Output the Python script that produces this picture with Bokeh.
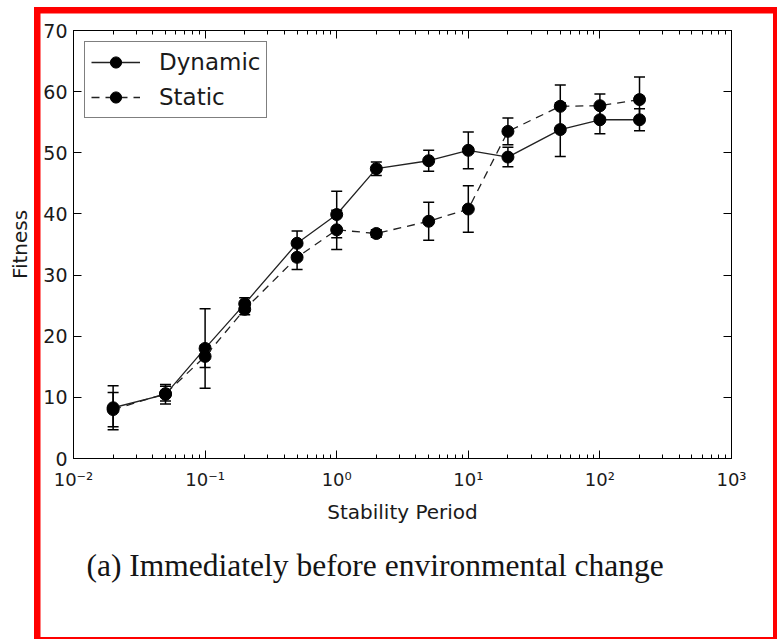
from bokeh.plotting import figure
from bokeh.models import (ColumnDataSource, Whisker, TeeHead, LogAxis, LinearAxis,
                          FixedTicker, CustomJSTickFormatter, Legend, LegendItem,
                          Title, Range1d)
from bokeh.embed import file_html
from bokeh.resources import INLINE

# ---- data ----
period = [0.02, 0.05, 0.1, 0.2, 0.5, 1, 2, 5, 10, 20, 50, 100, 200]
dynamic = [8.3, 10.5, 18.0, 25.3, 35.2, 39.9, 47.4, 48.7, 50.4, 49.3, 53.8, 55.4, 55.4]
dynamic_err = [3.6, 1.6, 6.5, 1.0, 2.0, 3.8, 1.1, 1.7, 3.0, 1.6, 4.4, 2.3, 1.8]
static = [8.0, 10.6, 16.7, 24.4, 32.9, 37.4, 36.8, 38.8, 40.8, 53.5, 57.6, 57.7, 58.7]
static_err = [2.8, 1.2, 1.8, 0.9, 2.0, 3.2, 0.6, 3.1, 3.8, 2.2, 3.5, 1.9, 3.7]
x_major = [0.01, 0.1, 1, 10, 100, 1000]
y_major = [0, 10, 20, 30, 40, 50, 60, 70]
x_title = "Stability Period"
y_title = "Fitness"
caption = "(a) Immediately before environmental change"

FONT = "DejaVu Sans"
INK = "#1a1a1a"

p = figure(x_axis_type="log", output_backend="svg", toolbar_location=None,
           frame_width=658, frame_height=428,
           min_border_left=73, min_border_right=46, min_border_top=30, min_border_bottom=181,
           x_range=Range1d(0.01, 1000), y_range=Range1d(0, 70))
# transparent canvas so the red page frame (CSS background of the host) shows
p.background_fill_color = None
p.border_fill_color = None
p.outline_line_color = "black"
p.outline_line_width = 1
p.grid.visible = False
p.styles = {
    "background-color": "white",
    "background-image": ", ".join(["linear-gradient(red, red)"] * 4),
    "background-position": "34px 7px, 34px 7px, 773px 7px, 34px 637px",
    "background-size": "6.5px 640px, 750px 6.5px, 6px 640px, 750px 6px",
    "background-repeat": "no-repeat",
}

minor_x = [k * d for d in x_major[:-1] for k in range(2, 10)]

fmt = CustomJSTickFormatter(code="""
const sup = {'-':'\\u207b','0':'\\u2070','1':'\\u00b9','2':'\\u00b2','3':'\\u00b3',
             '4':'\\u2074','5':'\\u2075','6':'\\u2076','7':'\\u2077','8':'\\u2078','9':'\\u2079'};
const e = Math.round(Math.log10(tick));
return '10' + String(e).split('').map(c => sup[c]).join('');
""")
blank = CustomJSTickFormatter(code="return '';")

def style_x(ax, labels=True):
    ax.ticker = FixedTicker(ticks=x_major, minor_ticks=minor_x)
    ax.major_tick_in = 8
    ax.major_tick_out = 0
    ax.minor_tick_in = 4
    ax.minor_tick_out = 0
    ax.axis_line_color = "black"
    ax.major_tick_line_color = "black"
    ax.minor_tick_line_color = "black"
    if labels:
        ax.formatter = fmt
        ax.major_label_text_font = FONT
        ax.major_label_text_font_size = "18px"
        ax.major_label_text_color = INK
        ax.major_label_standoff = 10
    else:
        ax.formatter = blank
        ax.major_label_text_font_size = "2px"
        ax.major_label_standoff = 0

def style_y(ax, labels=True):
    ax.ticker = FixedTicker(ticks=y_major, minor_ticks=[])
    ax.major_tick_in = 8
    ax.major_tick_out = 0
    ax.minor_tick_line_color = None
    ax.axis_line_color = "black"
    ax.major_tick_line_color = "black"
    if labels:
        ax.major_label_text_font = FONT
        ax.major_label_text_font_size = "19px"
        ax.major_label_text_color = INK
        ax.major_label_standoff = 6
    else:
        ax.formatter = blank
        ax.major_label_text_font_size = "2px"
        ax.major_label_standoff = 0

xa = p.xaxis[0]
style_x(xa)
xa.axis_label = x_title
xa.axis_label_text_font = FONT
xa.axis_label_text_font_size = "20px"
xa.axis_label_text_font_style = "normal"
xa.axis_label_text_color = INK
xa.axis_label_standoff = 7

ya = p.yaxis[0]
style_y(ya)
ya.axis_label = y_title
ya.axis_label_text_font = FONT
ya.axis_label_text_font_size = "20px"
ya.axis_label_text_font_style = "normal"
ya.axis_label_text_color = INK
ya.axis_label_standoff = 8

top = LogAxis()
style_x(top, labels=False)
p.add_layout(top, "above")
right = LinearAxis()
style_y(right, labels=False)
p.add_layout(right, "right")

src_d = ColumnDataSource(dict(x=period, y=dynamic,
                              lo=[v - e for v, e in zip(dynamic, dynamic_err)],
                              hi=[v + e for v, e in zip(dynamic, dynamic_err)]))
src_s = ColumnDataSource(dict(x=period, y=static,
                              lo=[v - e for v, e in zip(static, static_err)],
                              hi=[v + e for v, e in zip(static, static_err)]))

for src in (src_d, src_s):
    w = Whisker(source=src, base="x", lower="lo", upper="hi", dimension="height",
                line_color="black", line_width=1.5,
                lower_head=TeeHead(size=11, line_color="black", line_width=1.5),
                upper_head=TeeHead(size=11, line_color="black", line_width=1.5))
    p.add_layout(w)

ld = p.line("x", "y", source=src_d, line_color="#222222", line_width=1.3)
sd = p.scatter("x", "y", source=src_d, marker="circle", size=12,
               fill_color="black", line_color="black")
ls = p.line("x", "y", source=src_s, line_color="#222222", line_width=1.3, line_dash="8 6")
ss = p.scatter("x", "y", source=src_s, marker="circle", size=12,
               fill_color="black", line_color="black")

legend = Legend(items=[LegendItem(label="Dynamic", renderers=[ld, sd]),
                       LegendItem(label="Static", renderers=[ls, ss])],
                location="top_left", margin=11, padding=6, spacing=7,
                glyph_width=49, glyph_height=28, label_standoff=19,
                label_text_font=FONT, label_text_font_size="23px",
                label_text_color=INK,
                border_line_color="black", border_line_width=1,
                background_fill_color="white", background_fill_alpha=1)
p.add_layout(legend)

cap = Title(text=caption, align="left", offset=13, standoff=39,
            text_font="Liberation Serif", text_font_size="31.5px",
            text_font_style="normal", text_color="#141414")
p.add_layout(cap, "below")

open("out.html", "w").write(file_html(p, INLINE))
